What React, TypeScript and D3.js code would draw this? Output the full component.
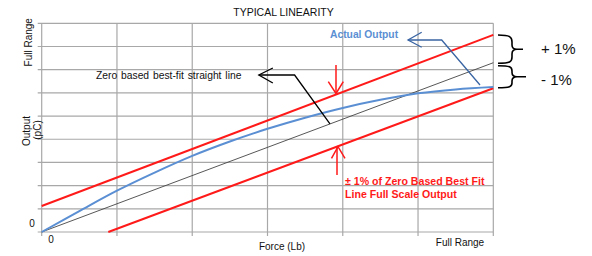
import React from "react";
import * as d3 from "d3";

// grid divisions (force on x, output on y)
const xTicks = [0, 1, 2, 3, 4, 5, 6];
const yTicks = [0, 1, 2, 3, 4, 5, 6, 7, 8, 9];

// zero based best-fit straight line
const bestFit = [
  { x: 0, y: 0 },
  { x: 6, y: 7.3 },
];
// +1% band
const upperBand = [
  { x: 0, y: 1.12 },
  { x: 6, y: 8.5 },
];
// -1% band
const lowerBand = [
  { x: 0.885, y: 0 },
  { x: 6, y: 6.2 },
];
// actual output curve
const actualX = [0, 0.5, 1, 1.5, 2, 2.5, 3, 3.5, 4, 4.5, 5, 5.5, 6];
const actualY = [0, 0.9, 1.78, 2.56, 3.28, 3.9, 4.45, 4.93, 5.35, 5.7, 5.98, 6.15, 6.25];

const W = 592;
const H = 256;
const FONT = "Liberation Sans, Arial, sans-serif";

const App: React.FC = () => {
  const x = d3.scaleLinear().domain([0, 6]).range([41.7, 493.3]);
  const y = d3.scaleLinear().domain([0, 9]).range([232, 23.3]);

  const line = d3
    .line<{ x: number; y: number }>()
    .x((d) => x(d.x))
    .y((d) => y(d.y));
  const curve = d3
    .line<{ x: number; y: number }>()
    .x((d) => x(d.x))
    .y((d) => y(d.y))
    .curve(d3.curveCatmullRom.alpha(0.5));

  const actual = actualX.map((v, i) => ({ x: v, y: actualY[i] }));

  const gridColor = "#a8a8a8";
  const red = "#ff1a1a";
  const blue = "#5b8fd3";

  return (
    <svg
      width={W}
      height={H}
      style={{ position: "absolute", left: 0, top: 0, background: "#fff" }}
      fontFamily={FONT}
    >
      {/* grid */}
      {yTicks.map((t) => (
        <line
          key={"h" + t}
          x1={x(0) - 4}
          x2={x(6)}
          y1={y(t)}
          y2={y(t)}
          stroke={gridColor}
          strokeWidth={1.2}
        />
      ))}
      {xTicks.map((t) => (
        <line
          key={"v" + t}
          x1={x(t)}
          x2={x(t)}
          y1={y(9)}
          y2={y(0) + 4}
          stroke={gridColor}
          strokeWidth={1.2}
        />
      ))}

      {/* bands and lines */}
      <path d={line(bestFit) || ""} fill="none" stroke="#444" strokeWidth={0.9} />
      <path d={line(upperBand) || ""} fill="none" stroke={red} strokeWidth={2} />
      <path d={line(lowerBand) || ""} fill="none" stroke={red} strokeWidth={2} />
      <path d={curve(actual) || ""} fill="none" stroke={blue} strokeWidth={2} />

      {/* title */}
      <text x={283.5} y={15.5} fontSize={10.5} textAnchor="middle" fill="#111">
        TYPICAL LINEARITY
      </text>

      {/* axis labels */}
      <text
        transform={`translate(31.5,${y(9) + 19}) rotate(-90)`}
        fontSize={10}
        textAnchor="middle"
        fill="#111"
      >
        Full Range
      </text>
      <text
        transform={`translate(29.5,131) rotate(-90)`}
        fontSize={10}
        textAnchor="middle"
        fill="#111"
      >
        Output
      </text>
      <text
        transform={`translate(41,130) rotate(-90)`}
        fontSize={10}
        textAnchor="middle"
        fill="#111"
      >
        (pC)
      </text>
      <text x={32} y={227} fontSize={10} textAnchor="middle" fill="#111">
        0
      </text>
      <text x={51} y={243} fontSize={10} textAnchor="middle" fill="#111">
        0
      </text>
      <text x={282} y={250} fontSize={10} textAnchor="middle" fill="#111">
        Force (Lb)
      </text>
      <text x={460} y={246} fontSize={10} textAnchor="middle" fill="#111">
        Full Range
      </text>

      {/* best-fit annotation */}
      <text x={96} y={79} fontSize={10.3} fill="#111" wordSpacing={1}>
        Zero based best-fit straight line
      </text>
      <polyline
        points={`${x(2.885)},${y(6.77)} ${x(3.36)},${y(6.77)} ${x(3.83)},${y(3.83 * 1.217)}`}
        fill="none"
        stroke="#000"
        strokeWidth={1.3}
      />
      <polyline
        points={`${x(2.885) + 14},${y(6.77) - 7} ${x(2.885)},${y(6.77)} ${x(2.885) + 14},${y(6.77) + 8}`}
        fill="none"
        stroke="#000"
        strokeWidth={1.3}
      />

      {/* actual output annotation */}
      <text x={330} y={37.5} fontSize={10.3} fontWeight="bold" fill={blue}>
        Actual Output
      </text>
      <polyline
        points={`408,40 441.7,40 480,85`}
        fill="none"
        stroke="#3a65a3"
        strokeWidth={1.3}
      />
      <polyline
        points={`421.7,32.3 408,40 421.7,47.3`}
        fill="none"
        stroke="#3a65a3"
        strokeWidth={1.3}
      />

      {/* red arrows */}
      <line x1={336} x2={336} y1={65} y2={93.5} stroke={red} strokeWidth={1.5} />
      <polyline points="328.3,81.7 336,93.5 343.3,81.7" fill="none" stroke={red} strokeWidth={1.5} />
      <line x1={337} x2={337} y1={175} y2={147} stroke={red} strokeWidth={1.5} />
      <polyline points="331.5,158.3 338,146.7 345,158.3" fill="none" stroke={red} strokeWidth={1.5} />
      <text x={345} y={185} fontSize={10.6} fontWeight="bold" fill={red}>
        ± 1% of Zero Based Best Fit
      </text>
      <text x={345} y={197.5} fontSize={10.6} fontWeight="bold" fill={red}>
        Line Full Scale Output
      </text>

      {/* braces */}
      <path
        d="M498,35 C510,35 512,37 512,42 L512,45 C512,48 514,49.3 517,49.3 L523,49.3 M517,49.3 C514,49.3 512,51 512,54 L512,57 C512,62 510,63.3 498,63.3"
        fill="none"
        stroke="#000"
        strokeWidth={1.6}
      />
      <path
        d="M498,65.7 C510,65.7 512,67 512,71 L512,72.5 C512,75.5 514,76.7 517,76.7 L526,76.7 M517,76.7 C514,76.7 512,78 512,81 L512,83 C512,86.5 510,87.7 498,87.7"
        fill="none"
        stroke="#000"
        strokeWidth={1.6}
      />
      <text x={541} y={53.5} fontSize={15} fill="#111">
        + 1%
      </text>
      <text x={541} y={85} fontSize={15} fill="#111">
        - 1%
      </text>
    </svg>
  );
};

export default App;
